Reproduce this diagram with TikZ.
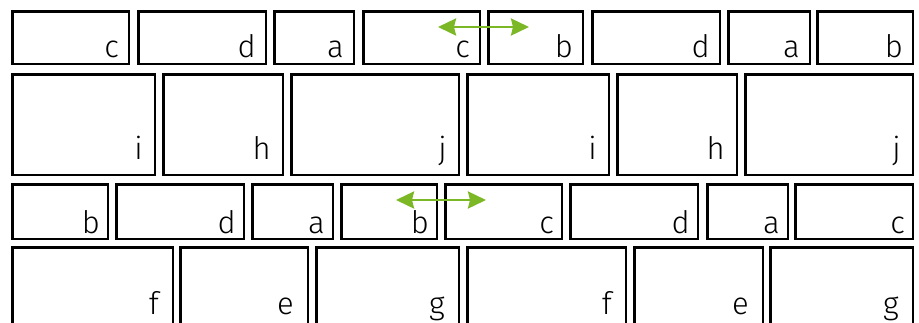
\documentclass[tikz,border=0pt]{standalone}
\usepackage{fontspec}
\setmainfont{Fira Sans Light}
\usetikzlibrary{arrows.meta}
\definecolor{swapgreen}{RGB}{124,184,38}
\begin{document}
\begin{tikzpicture}[x=1pt, y=-1pt,
  cell/.style={draw=black, line width=2.6pt, inner sep=0pt, anchor=north west},
  tag/.style={anchor=base east, inner sep=0pt, font=\fontsize{31}{36}\selectfont},
  swap/.style={swapgreen, line width=2.8pt, {Stealth[length=18pt,width=17pt,inset=2pt]}-{Stealth[length=18pt,width=17pt,inset=2pt]}}]
\useasboundingbox (0,0) rectangle (919,322);
% row 1: top 9, bottom 64, baseline 57
\foreach \xa/\xb/\t [count=\i] in {10/129/c, 136/266/d, 272/354/a, 361/480/c,
    486/583/b, 590/720/d, 726/810/a, 815/913/b} {
  \node[cell, minimum width={(\xb-\xa-2.6)*1pt}, minimum height=52.4pt]
    (ra\i) at (\xa+1.3,10.3) {};
  \node[tag] (ra\i t) at (\xb-10,57) {\t};
}
% row 2: top 72, bottom 175, baseline 159
\foreach \xa/\xb/\t [count=\i] in {10/155/i, 161/283/h, 289/459/j,
    465/609/i, 615/737/h, 743/913/j} {
  \node[cell, minimum width={(\xb-\xa-2.6)*1pt}, minimum height=100.4pt]
    (rb\i) at (\xa+1.3,73.3) {};
  \node[tag] (rb\i t) at (\xb-12,159) {\t};
}
% row 3: top 182, bottom 239, baseline 233
\foreach \xa/\xb/\t [count=\i] in {10/108/b, 114/244/d, 250/333/a, 339/437/b,
    443/562/c, 568/698/d, 705/788/a, 793/913/c} {
  \node[cell, minimum width={(\xb-\xa-2.6)*1pt}, minimum height=54.4pt]
    (rc\i) at (\xa+1.3,183.3) {};
  \node[tag] (rc\i t) at (\xb-8,233) {\t};
}
% row 4: runs off the bottom edge, baseline 314
\foreach \xa/\xb/\t [count=\i] in {10/173/f, 178/308/e, 314/459/g,
    465/626/f, 632/763/e, 768/913/g} {
  \node[cell, minimum width={(\xb-\xa-2.6)*1pt}, minimum height=100pt]
    (rd\i) at (\xa+1.3,246.3) {};
  \node[tag] (rd\i t) at (\xb-14,314) {\t};
}
% swap arrows
\coordinate (sa1) at (438,27);
\coordinate (sa2) at (529,27);
\coordinate (sb1) at (396,200);
\coordinate (sb2) at (486,200);
\draw[swap] (sa1) -- (sa2);
\draw[swap] (sb1) -- (sb2);
\end{tikzpicture}
\end{document}
